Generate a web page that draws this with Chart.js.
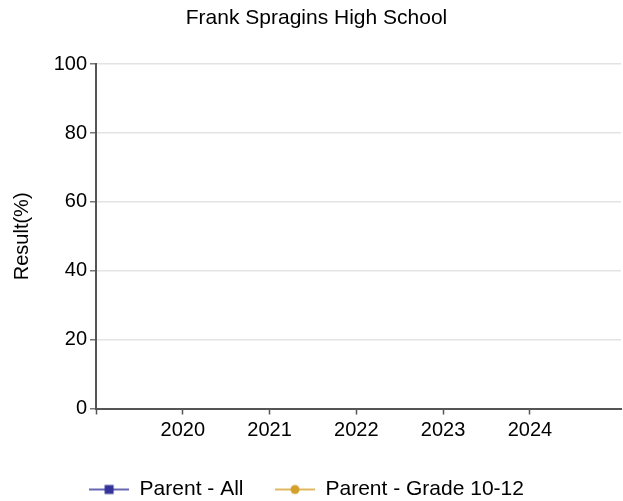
<!DOCTYPE html>
<html>
<head>
<meta charset="utf-8">
<script src="https://cdn.jsdelivr.net/npm/chart.js@4"></script>
<style>
  html, body { margin: 0; padding: 0; background: #fff; }
  #wrap { width: 623px; height: 501px; }
</style>
</head>
<body>
<div id="wrap"><canvas id="grafico" width="623" height="501"></canvas></div>
<script>
const titulo = 'Frank Spragins High School';
const anos = [2020, 2021, 2022, 2023, 2024];
const parentAll = [null, null, null, null, null];
const parentGrade = [null, null, null, null, null];
const yTicks = [0, 20, 40, 60, 80, 100];

// small images for the legend: line + marker
function marcador(cor, tipo) {
  const c = document.createElement('canvas');
  c.width = 40; c.height = 12;
  const g = c.getContext('2d');
  g.strokeStyle = cor; g.lineWidth = 1.5;
  g.beginPath(); g.moveTo(0, 6); g.lineTo(40, 6); g.stroke();
  g.fillStyle = cor;
  if (tipo === 'rect') g.fillRect(15.5, 1.5, 9, 9);
  else { g.beginPath(); g.arc(20, 6, 4.5, 0, Math.PI * 2); g.fill(); }
  return c;
}

// title and legend are not exactly centred in the reference
const ajuste = {
  id: 'ajuste',
  afterLayout(chart) {
    chart.titleBlock.left += 6;
    chart.titleBlock.right += 6;
    chart.legend.left -= 4;
    chart.legend.right -= 4;
  }
};

const fonte = 'Arial, "Liberation Sans", sans-serif';
const ctx = document.getElementById('grafico').getContext('2d');
new Chart(ctx, {
  type: 'line',
  data: {
    datasets: [
      { label: 'Parent - All', data: anos.map((a, i) => ({ x: a, y: parentAll[i] })),
        borderColor: '#333399', backgroundColor: '#333399', pointStyle: 'rect', borderWidth: 1.5, pointRadius: 4.5 },
      { label: 'Parent - Grade 10-12', data: anos.map((a, i) => ({ x: a, y: parentGrade[i] })),
        borderColor: '#d4a02a', backgroundColor: '#d4a02a', pointStyle: 'circle', borderWidth: 1.5, pointRadius: 4.5 }
    ]
  },
  plugins: [ajuste],
  options: {
    responsive: false,
    animation: false,
    layout: { autoPadding: false, padding: { left: 0, right: 2, top: 0, bottom: -9 } },
    plugins: {
      title: { display: true, text: titulo, color: '#000', font: { family: fonte, size: 21, weight: 'normal' }, padding: { top: 6, bottom: 33 } },
      legend: {
        position: 'bottom',
        labels: {
          usePointStyle: true,
          pointStyleWidth: 40,
          color: '#000',
          font: { family: fonte, size: 21 },
          padding: 31.5,
          generateLabels: chart => chart.data.datasets.map((ds, i) => ({
            text: ds.label,
            pointStyle: marcador(ds.borderColor, ds.pointStyle),
            fillStyle: ds.borderColor, strokeStyle: ds.borderColor, lineWidth: 0,
            datasetIndex: i, hidden: false
          }))
        }
      },
      tooltip: { enabled: false }
    },
    scales: {
      x: {
        type: 'linear', min: 2019, max: 2025.05,
        afterBuildTicks: s => { s.ticks = [2019].concat(anos).map(v => ({ value: v })); },
        afterFit: s => { s.height = 39; s.paddingLeft = 0; s.paddingRight = 0; },
        ticks: { color: '#000', font: { family: fonte, size: 20 }, padding: 4,
          callback: v => anos.includes(v) ? String(v) : '' },
        grid: { drawOnChartArea: false, tickLength: 6, tickColor: '#555', tickWidth: 1.5 },
        border: { color: '#555', width: 2 }
      },
      y: {
        min: 0, max: 100,
        afterBuildTicks: s => { s.ticks = yTicks.map(v => ({ value: v })); },
        afterFit: s => { s.width = 96; },
        title: { display: true, text: 'Result(%)', color: '#000', font: { family: fonte, size: 20 }, padding: { top: 10, bottom: 0 } },
        ticks: { color: '#000', font: { family: fonte, size: 20 }, padding: 3 },
        grid: { color: '#e3e3e3', tickLength: 6, tickColor: '#777', lineWidth: 1.5 },
        border: { color: '#555', width: 2 }
      }
    }
  }
});
</script>
</body>
</html>
